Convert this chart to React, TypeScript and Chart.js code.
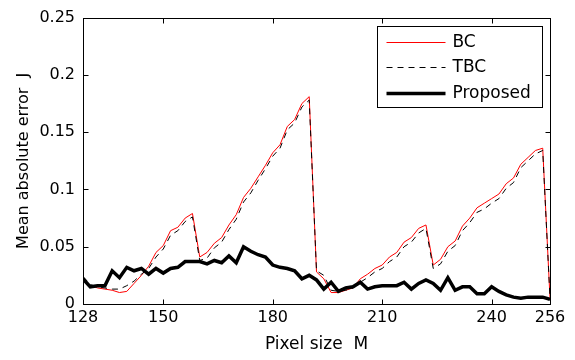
import React, { useEffect, useRef } from "react";
import { Chart, registerables } from "chart.js";

Chart.register(...registerables);

const pixelSize = [
  128, 130, 132, 134, 136, 138, 140, 142, 144, 146, 148, 150, 152, 154, 156, 158,
  160, 162, 164, 166, 168, 170, 172, 174, 176, 178, 180, 182, 184, 186, 188, 190,
  192, 194, 196, 198, 200, 202, 204, 206, 208, 210, 212, 214, 216, 218, 220, 222,
  224, 226, 228, 230, 232, 234, 236, 238, 240, 242, 244, 246, 248, 250, 252, 254,
  256,
];

const bcError = [
  0.022, 0.016, 0.014, 0.013, 0.012, 0.010, 0.011, 0.018, 0.025, 0.033, 0.045, 0.051, 0.064, 0.067, 0.075, 0.079,
  0.041, 0.045, 0.053, 0.058, 0.069, 0.078, 0.093, 0.101, 0.111, 0.121, 0.132, 0.139, 0.155, 0.161, 0.175, 0.181,
  0.028, 0.022, 0.010, 0.010, 0.012, 0.014, 0.022, 0.026, 0.031, 0.034, 0.041, 0.045, 0.054, 0.058, 0.066, 0.069,
  0.034, 0.039, 0.050, 0.055, 0.068, 0.075, 0.084, 0.088, 0.092, 0.096, 0.105, 0.110, 0.122, 0.128, 0.134, 0.136,
  0.005,
];

const tbcError = [
  0.024, 0.017, 0.015, 0.014, 0.013, 0.013, 0.016, 0.020, 0.026, 0.031, 0.041, 0.048, 0.060, 0.064, 0.072, 0.076,
  0.038, 0.040, 0.049, 0.054, 0.065, 0.074, 0.089, 0.097, 0.108, 0.118, 0.129, 0.136, 0.152, 0.158, 0.172, 0.178,
  0.029, 0.025, 0.012, 0.011, 0.012, 0.014, 0.019, 0.023, 0.028, 0.031, 0.037, 0.041, 0.050, 0.054, 0.062, 0.066,
  0.031, 0.035, 0.046, 0.051, 0.064, 0.071, 0.080, 0.083, 0.088, 0.092, 0.101, 0.106, 0.119, 0.125, 0.131, 0.134,
  0.005,
];

const proposedError = [
  0.022, 0.015, 0.016, 0.016, 0.029, 0.023, 0.032, 0.029, 0.031, 0.026, 0.031, 0.027, 0.031, 0.032, 0.037, 0.037,
  0.037, 0.035, 0.038, 0.036, 0.042, 0.036, 0.050, 0.046, 0.043, 0.041, 0.034, 0.032, 0.031, 0.029, 0.022, 0.025,
  0.021, 0.013, 0.019, 0.011, 0.014, 0.015, 0.019, 0.013, 0.015, 0.016, 0.016, 0.016, 0.019, 0.013, 0.018, 0.021,
  0.018, 0.012, 0.023, 0.012, 0.015, 0.015, 0.009, 0.009, 0.015, 0.011, 0.008, 0.006, 0.005, 0.006, 0.006, 0.006,
  0.004,
];

const xTickValues = [128, 150, 180, 210, 240, 256];
const yTickValues = [0, 0.05, 0.1, 0.15, 0.2, 0.25];
const seriesNames = ["BC", "TBC", "Proposed"];
const xTitle = "Pixel size  M";
const yTitle = "Mean absolute error  J";

const FONT = "'DejaVu Sans', sans-serif";
const BC_COLOR = "#ff0000";

export default function App() {
  const ref = useRef<HTMLCanvasElement>(null);

  useEffect(() => {
    if (!ref.current) return;
    const toPts = (ys: number[]) => pixelSize.map((x, i) => ({ x, y: ys[i] }));

    const boxPlugin = {
      id: "matlabBox",
      afterDatasetsDraw(chart: any) {
        const { ctx, chartArea: ca, scales } = chart;
        ctx.save();
        ctx.strokeStyle = "#000";
        ctx.lineWidth = 1;
        const l = Math.round(ca.left) + 0.5;
        const r = Math.round(ca.right) + 0.5;
        const t = Math.round(ca.top) + 0.5;
        const b = Math.round(ca.bottom) + 0.5;
        ctx.strokeRect(l, t, r - l, b - t);
        const tl = 5;
        ctx.beginPath();
        for (const v of xTickValues) {
          const px = Math.round(scales.x.getPixelForValue(v)) + 0.5;
          ctx.moveTo(px, b);
          ctx.lineTo(px, b - tl);
          ctx.moveTo(px, t);
          ctx.lineTo(px, t + tl);
        }
        for (const v of yTickValues) {
          const py = Math.round(scales.y.getPixelForValue(v)) + 0.5;
          ctx.moveTo(l, py);
          ctx.lineTo(l + tl, py);
          ctx.moveTo(r, py);
          ctx.lineTo(r - tl, py);
        }
        ctx.stroke();
        ctx.restore();
      },
      afterDraw(chart: any) {
        const { ctx, chartArea: ca } = chart;
        const w = 165;
        const h = 81;
        const lx = Math.round(ca.right - 8 - w) + 0.5;
        const ly = Math.round(ca.top + 8) + 0.5;
        ctx.save();
        ctx.fillStyle = "#fff";
        ctx.fillRect(lx, ly, w, h);
        ctx.strokeStyle = "#000";
        ctx.lineWidth = 1;
        ctx.strokeRect(lx, ly, w, h);
        chart.data.datasets.forEach((ds: any, i: number) => {
          const y = Math.round(ly + 15 + i * 25.5) + 0.5;
          ctx.beginPath();
          ctx.strokeStyle = ds.borderColor;
          ctx.lineWidth = ds.borderWidth;
          ctx.setLineDash(ds.borderDash || []);
          ctx.moveTo(lx + 9, y);
          ctx.lineTo(lx + 68, y);
          ctx.stroke();
          ctx.setLineDash([]);
          ctx.fillStyle = "#000";
          ctx.font = `17px ${FONT}`;
          ctx.textBaseline = "middle";
          ctx.textAlign = "left";
          ctx.fillText(ds.label, lx + 75, y);
        });
        ctx.restore();
      },
    };

    const chart = new Chart(ref.current, {
      type: "line",
      data: {
        datasets: [
          {
            label: seriesNames[0],
            data: toPts(bcError),
            borderColor: BC_COLOR,
            borderWidth: 1,
            pointRadius: 0,
            tension: 0,
            order: 3,
          },
          {
            label: seriesNames[1],
            data: toPts(tbcError),
            borderColor: "#000000",
            borderWidth: 1,
            borderDash: [6, 5],
            pointRadius: 0,
            tension: 0,
            order: 2,
          },
          {
            label: seriesNames[2],
            data: toPts(proposedError),
            borderColor: "#000000",
            borderWidth: 3.5,
            pointRadius: 0,
            tension: 0,
            order: 1,
          },
        ],
      },
      options: {
        responsive: false,
        animation: false,
        devicePixelRatio: 1,
        layout: { padding: { top: 13, right: 25, bottom: 0, left: 0 } },
        plugins: {
          legend: { display: false },
          tooltip: { enabled: false },
        },
        scales: {
          x: {
            type: "linear",
            min: 128,
            max: 256,
            afterBuildTicks: (s: any) => {
              s.ticks = xTickValues.map((v) => ({ value: v }));
            },
            afterFit: (s: any) => {
              s.height = 56;
            },
            grid: { display: false, drawTicks: false },
            border: { display: false },
            ticks: {
              color: "#000",
              font: { family: FONT, size: 16 },
              padding: 4,
              maxRotation: 0,
              autoSkip: false,
            },
            title: {
              display: true,
              text: xTitle,
              color: "#000",
              font: { family: FONT, size: 17 },
              padding: { top: 0, bottom: 5 },
            },
          },
          y: {
            type: "linear",
            min: 0,
            max: 0.25,
            afterBuildTicks: (s: any) => {
              s.ticks = yTickValues.map((v) => ({ value: v }));
            },
            afterFit: (s: any) => {
              s.width = 83;
            },
            grid: { display: false, drawTicks: false },
            border: { display: false },
            ticks: {
              color: "#000",
              font: { family: FONT, size: 16 },
              padding: 8,
              callback: (v: any) => String(Number(Number(v).toFixed(4))),
            },
            title: {
              display: true,
              text: yTitle,
              color: "#000",
              font: { family: FONT, size: 16 },
              padding: { top: 14, bottom: 0 },
            },
          },
        },
      },
      plugins: [boxPlugin],
    });
    return () => chart.destroy();
  }, []);

  return (
    <div style={{ position: "fixed", left: 0, top: 0, width: 575, height: 360, background: "#fff" }}>
      <canvas ref={ref} width={575} height={360} style={{ display: "block", width: 575, height: 360 }} />
    </div>
  );
}
